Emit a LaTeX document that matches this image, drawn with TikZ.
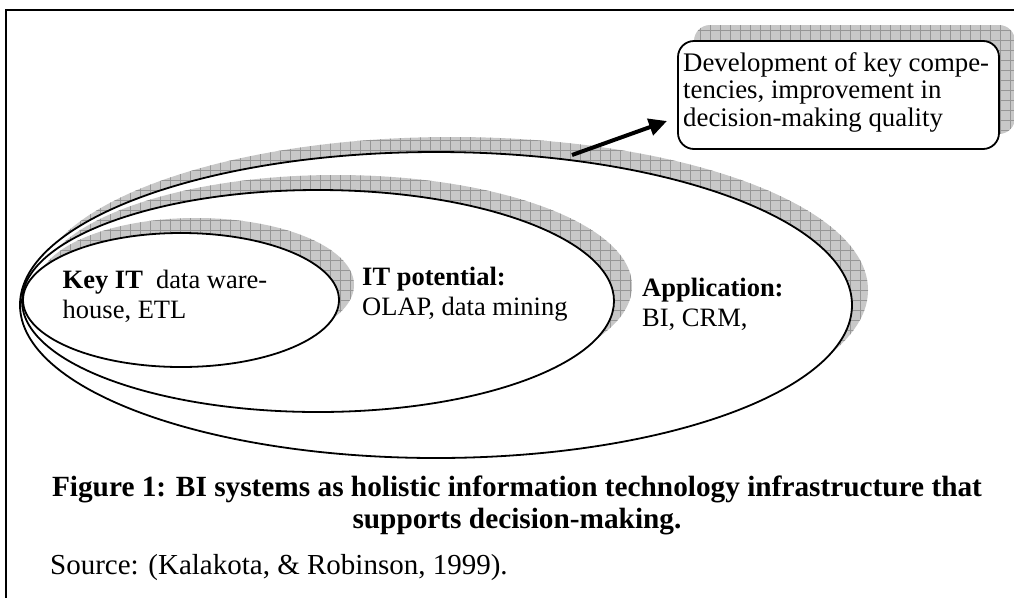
\documentclass[tikz,border=0pt]{standalone}
\usepackage{fontspec}
\setmainfont{Liberation Serif}
\usetikzlibrary{arrows.meta,shapes.geometric}
\definecolor{shadowgray}{RGB}{200,200,200}
\definecolor{gridgray}{RGB}{150,150,150}
\newcommand\gridshadow[1]{%
  \begin{scope}
    \clip #1;
    \fill[shadowgray] (0,598) rectangle (1014,0);
    \draw[gridgray, line width=0.5pt, step=10pt] (0,598) grid (1014,0);
  \end{scope}}
\tikzset{
  ring/.style={ellipse, draw=black, line width=1.8pt, fill=white, inner sep=0pt, outer sep=0pt},
  lbl/.style={anchor=base west, inner sep=0pt, align=left, font=\fontsize{26.5}{30}\selectfont},
  resultbox/.style={draw=black, line width=1.8pt, fill=white, rounded corners=16pt, inner sep=0pt, outer sep=0pt},
  thickarrow/.style={line width=4pt, -{Triangle[length=18pt,width=17pt]}},
}
\begin{document}
\begin{tikzpicture}[x=1pt,y=-1pt]
\useasboundingbox (0,0) rectangle (1014,598);
% frame
\draw[line width=2pt] (1014,10) -- (6,10) -- (6,598);

% outer ellipse
\gridshadow{(452,290) ellipse [x radius=416pt, y radius=153pt]}
\node[ring, minimum width=832pt, minimum height=306pt] (outer) at (436,305) {};
% middle ellipse
\gridshadow{(336,286) ellipse [x radius=296pt, y radius=111pt]}
\node[ring, minimum width=592pt, minimum height=222pt] (middle) at (318,301) {};
% inner ellipse
\gridshadow{(196,285) ellipse [x radius=158pt, y radius=67pt]}
\node[ring, minimum width=316pt, minimum height=134pt] (inner) at (181,300) {};

% result box
\gridshadow{[rounded corners=16pt] (694,25) rectangle (1015,134)}
\node[resultbox, minimum width=321pt, minimum height=108pt] (result) at (838.5,95) {};
\node[lbl, font=\fontsize{26.8}{27.5}\selectfont] (resulttext) at (683,126)
  {Development of key compe-\\tencies, improvement in\\decision-making quality};

% arrow
\coordinate (arrowtail) at (572,155);
\coordinate (arrowtip) at (667,121);
\draw[thickarrow] (arrowtail) -- (arrowtip);

% labels
\node[lbl] (keyit) at (62.5,318) {\textbf{Key IT}\ \ data ware-\\house, ETL};
\node[lbl] (itpot) at (362,315) {\textbf{IT potential:}\\OLAP, data mining};
\node[lbl] (appl) at (642,326) {\textbf{Application:}\\BI, CRM,};

% caption
\node[anchor=base, inner sep=0pt, align=center, font=\bfseries\fontsize{29.3}{32}\selectfont] (caption) at (517,528)
  {Figure 1: BI systems as holistic information technology infrastructure that\\supports decision-making.};
\node[anchor=base west, inner sep=0pt, font=\fontsize{29}{30}\selectfont] (source) at (50,574)
  {Source: (Kalakota, \& Robinson, 1999).};
\end{tikzpicture}
\end{document}
